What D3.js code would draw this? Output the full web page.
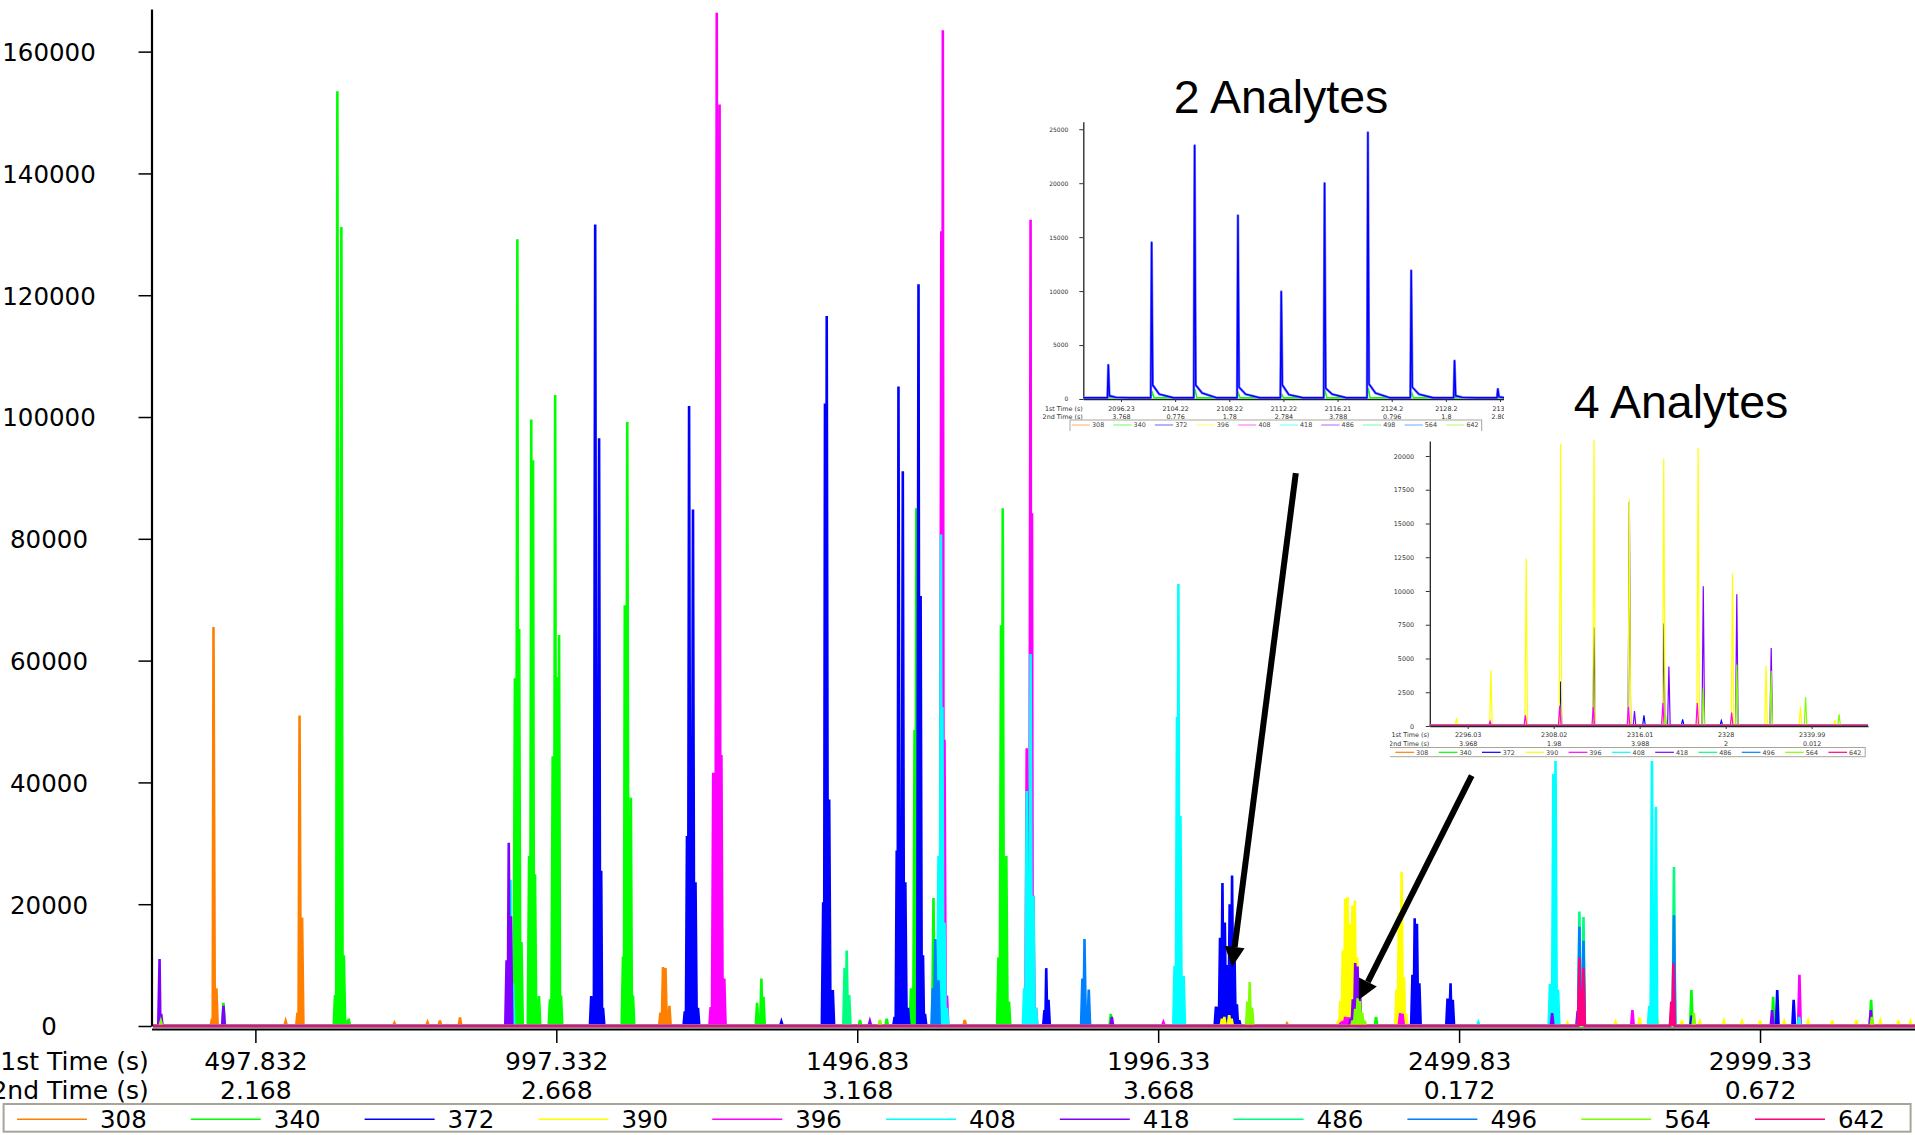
<!DOCTYPE html>
<html>
<head>
<meta charset="utf-8">
<script src="https://cdn.jsdelivr.net/npm/d3@7"></script>
<style>
  body { margin: 0; background: #fff; }
  svg { display: block; }
</style>
</head>
<body>
<svg id="chart" width="1915" height="1135"></svg>
<script>
// channels (m/z) in legend order, with their trace colours
const channels = ["308", "340", "372", "390", "396", "408", "418", "486", "496", "564", "642"];
const colors = ["#ff8000", "#00ff00", "#0000ff", "#ffff00", "#ff00ff", "#00ffff", "#8000ff", "#00ff80", "#0080ff", "#80ff00", "#ff0080"];

// peaks per channel: [run time (s), intensity]
const s308 = [[427.9,1200],[430.4,65500],[435.2,6200],[550.3,800],[570.0,2200],[573.4,51000],[577.6,17800],[650.0,900],[731.0,500],[786.0,600],[806.6,900],[840.0,1400],[1173.0,2200],[1177.3,9700],[1181.4,9500],[1187.9,3300],[1678.7,1000],[2214.0,400]];
const s340 = [[343.0,1500],[447.0,3800],[632.3,5100],[636.2,153500],[642.9,131200],[647.0,11600],[655.0,1200],[931.2,57100],[935.3,129200],[938.3,65200],[942.1,13800],[954.8,27900],[958.4,99600],[961.3,92900],[964.6,24900],[971.2,4900],[989.5,4400],[994.0,44300],[998.1,103600],[1001.1,57300],[1004.6,64200],[1007.8,5000],[1110.8,11400],[1113.8,69100],[1117.9,99200],[1123.9,37500],[1127.4,5000],[1333.6,3800],[1340.8,7800],[1344.2,4800],[1504.6,1000],[1549.0,1200],[1589.3,6200],[1595.3,48600],[1598.2,85000],[1601.0,10000],[1626.7,21000],[1734.6,11300],[1738.9,65800],[1741.7,85000],[1747.7,27900],[1752.2,4000],[1921.4,2000],[2362.0,1500],[2886.0,5900],[3021.8,4800],[3184.6,4300]];
const s372 = [[1058.0,4900],[1064.6,131600],[1071.1,96500],[1074.6,25500],[1077.6,3000],[1213.5,2400],[1217.1,31200],[1220.6,101800],[1227.1,84800],[1231.3,23600],[1235.4,3000],[1374.0,700],[1443.4,20300],[1446.4,102200],[1449.3,116600],[1453.4,37200],[1459.4,5900],[1562.1,1500],[1565.6,28800],[1568.5,105000],[1575.7,91100],[1579.9,23600],[1584.4,3000],[1601.8,121800],[1605.3,70600],[1609.3,11600],[1612.6,2000],[1811.1,2600],[1814.0,9500],[1817.8,4300],[2096.0,3200],[2098.8,3150],[2102.8,14500],[2106.8,23500],[2110.8,17000],[2114.8,10000],[2118.8,20000],[2122.8,24700],[2126.8,11900],[2130.8,3550],[2134.8,930],[2310.8,3300],[2314.7,7300],[2318.8,16600],[2320.5,800],[2322.8,7600],[2325.0,500],[2329.5,400],[2422.5,8400],[2426.2,17700],[2430.0,16800],[2434.0,7000],[2480.8,4500],[2485.8,7000],[2489.5,4300],[2886.5,1700],[3028.6,5900],[3055.9,4300]];
const s390 = [[2106.0,1200],[2110.0,1500],[2118.0,1800],[2122.0,1200],[2298.7,600],[2302.7,4150],[2306.8,12400],[2310.8,20900],[2314.7,21200],[2318.8,16800],[2322.8,19800],[2326.8,20600],[2330.8,11300],[2334.7,4470],[2338.7,1430],[2342.7,440],[2396.0,6000],[2400.0,18500],[2404.5,25300],[2408.5,8000],[2412.0,2000],[2680,500],[2760,600],[2800,1400],[2830,800],[2870,900],[2900,700],[2940,800],[2970,700],[3000,900],[3040,700],[3080,800],[3120,900],[3160,1000],[3200,800],[3230,900],[3250,700]];
const s396 = [[1256.5,3100],[1260.7,41600],[1266.6,166400],[1271.3,151300],[1274.3,44500],[1279.1,7800],[1639.7,130500],[1642.2,163500],[1645.0,47000],[1649.1,5000],[1781.6,45600],[1788.0,132400],[1790.4,84200],[1792.7,21400],[1797.0,3000],[2008.7,600],[2302.6,350],[2306.7,800],[2310.7,1500],[2314.6,1400],[2318.7,1400],[2322.7,1700],[2326.7,1700],[2330.7,1000],[2402.0,2100],[2406.0,2000],[2788.0,2600],[3065.5,8400]];
const s408 = [[924.0,24000],[928.0,7000],[1635.0,27900],[1639.2,80700],[1641.5,52400],[1645.0,17000],[1649.1,3000],[1777.4,6200],[1781.6,38600],[1788.0,61100],[1792.7,21400],[1797.0,3000],[2027.3,9900],[2031.3,50800],[2033.6,72600],[2037.0,34500],[2042.3,8200],[2532.0,600],[2651.0,6900],[2656.6,41400],[2660.2,43500],[2664.4,6000],[2816.0,3300],[2820.4,43500],[2827.0,36000],[3065.0,1500]];
const s418 = [[340.8,11000],[343.5,2000],[447.0,3300],[917.4,10800],[921.0,30100],[924.7,18000],[1521.0,800],[1923.0,1500],[2319.4,1100],[2323.4,4400],[2327.4,10350],[2331.3,9750],[2335.3,5780],[2654.6,2100],[2697.0,2500],[2855.0,3000],[3020.0,2600],[3184.0,2600]];
const s486 = [[1479.0,9500],[1482.5,12400],[1486.6,5100],[2699.9,18800],[2706.7,17900],[2852.6,3000],[2857.0,26100]];
const s496 = [[1625.5,6200],[1629.7,14300],[1635.0,7500],[1874.1,7800],[1877.6,14300],[1884.7,6000],[2699.9,16300],[2706.7,14000],[2857.0,18200]];
const s564 = [[343.0,800],[1537.7,1000],[2148.3,4000],[2152.1,7200],[2156.1,3000],[2323.0,900],[2327.4,2800],[2331.3,4550],[2335.3,4100],[2339.3,2150],[2343.2,860],[2890.0,2100],[3186.0,1500]];
const s642 = [[2699.9,11200],[2703.0,6000],[2706.7,9500],[2852.6,4000],[2856.0,10300]];
const series = [s308, s340, s372, s390, s396, s408, s418, s486, s496, s564, s642];

// main axes
const yTicks = [0, 20000, 40000, 60000, 80000, 100000, 120000, 140000, 160000];
const xTicks = [500, 1000, 1500, 2000, 2500, 3000];
const firstTime = ["497.832", "997.332", "1496.83", "1996.33", "2499.83", "2999.33"];
const secondTime = ["2.168", "2.668", "3.168", "3.668", "0.172", "0.672"];

// inset "2 Analytes": its own channel list
const i1Channels = ["308", "340", "372", "396", "408", "418", "486", "498", "564", "642"];
const i1Colors = ["#ffb97f", "#7fff7f", "#7f7fff", "#ffff7f", "#ff7fff", "#7fffff", "#bf7fff", "#7fffbf", "#7fbfff", "#bfff7f"];
// [time, apex, tail right after, tail ~0.7 s later]
const i1Blue = [[2098.83,3150,300,150],[2102.83,14500,1300,450],[2106.8,23500,1300,550],[2110.8,17000,1100,450],[2114.8,9950,1300,400],[2118.8,20000,1000,450],[2122.8,24700,1400,550],[2126.8,11900,1100,450],[2130.8,3550,300,150],[2134.8,930,200,100]];
const i1Green = [[2098.9,150],[2102.9,600],[2106.85,900],[2110.85,550],[2114.85,450],[2118.85,800],[2122.85,1000],[2126.85,600]];
const i1YTicks = [0, 5000, 10000, 15000, 20000, 25000];
const i1XTicks = [2100, 2105, 2110, 2115, 2120, 2125, 2130, 2135];
const i1First = ["2096.23", "2104.22", "2108.22", "2112.22", "2116.21", "2124.2", "2128.2", "2132"];
const i1Second = ["3.768", "0.776", "1.78", "2.784", "3.788", "0.796", "1.8", "2.804"];

// inset "4 Analytes"
const i2YTicks = [0, 2500, 5000, 7500, 10000, 12500, 15000, 17500, 20000];
const i2XTicks = [2300, 2310, 2320, 2330, 2340];
const i2First = ["2296.03", "2308.02", "2316.01", "2328", "2339.99"];
const i2Second = ["3.968", "1.98", "3.988", "2", "0.012"];

// arrows: [from, to] in run time / intensity of the main plot
const arrows = [[[2228.7, 90800], [2122.8, 9700]], [[2520.9, 41100], [2333.5, 4300]]];

const FONT = "'DejaVu Sans', Verdana, sans-serif";
const svg = d3.select("#chart").attr("font-family", FONT);

function spikePoints(peaks, hw, t0, t1, base) {
  const s = peaks.slice().sort((a, b) => a[0] - b[0]);
  const pts = [[t0, base]];
  s.forEach((d, i) => {
    const prev = s[i - 1], next = s[i + 1];
    const left = prev ? Math.max(d[0] - hw, (prev[0] + d[0]) / 2) : d[0] - hw;
    const right = next ? Math.min(d[0] + hw, (d[0] + next[0]) / 2) : d[0] + hw;
    if (left > pts[pts.length - 1][0]) pts.push([left, base]);
    pts.push([d[0], d[1]], [right, base]);
  });
  pts.push([t1, base]);
  return pts;
}

// ---------- main chart
const x = d3.scaleLinear().domain([327.4, 3257.5]).range([151.5, 1915]);
const y = d3.scaleLinear().domain([0, 167000]).range([1026, 9]);

svg.append("clipPath").attr("id", "plotClip").append("rect")
  .attr("x", x.range()[0] + 1.5).attr("y", 0)
  .attr("width", x.range()[1] - x.range()[0]).attr("height", y(0) + 2);

const plot = svg.append("g").attr("clip-path", "url(#plotClip)");
const area = d3.area().x(d => x(d[0])).y0(y(0)).y1(d => y(d[1]));
const line = d3.line().x(d => x(d[0])).y(d => y(d[1]));

series.forEach((s, i) => {
  const pts = spikePoints(s, 2.2, x.domain()[0], x.domain()[1], 0);
  plot.append("path").datum(pts).attr("d", area).attr("fill", colors[i]);
  plot.append("path").datum(pts).attr("d", line)
    .attr("fill", "none").attr("stroke", colors[i]).attr("stroke-width", 2.6);
});

const yAxis = svg.append("g").attr("transform", `translate(${x.range()[0]},0)`)
  .call(d3.axisLeft(y).tickValues(yTicks).tickSize(13).tickSizeOuter(0).tickFormat(d3.format("d")));
yAxis.attr("font-family", FONT).attr("font-size", 24.5);
yAxis.select(".domain").attr("stroke-width", 2.2);
yAxis.selectAll(".tick line").attr("stroke-width", 1.5);
yAxis.selectAll(".tick text").attr("x", 49 - x.range()[0]).attr("text-anchor", "middle")
  .attr("dy", "0.36em").attr("fill", "#000");

const xAxis = svg.append("g").attr("transform", `translate(0,${y(0) + 3})`)
  .call(d3.axisBottom(x).tickValues(xTicks).tickSize(14).tickSizeOuter(0).tickFormat((d, i) => firstTime[i]));
xAxis.attr("font-family", FONT).attr("font-size", 25);
xAxis.select(".domain").attr("stroke-width", 2.2);
xAxis.selectAll(".tick line").attr("stroke-width", 1.5);
xAxis.selectAll(".tick text").attr("y", 41).attr("dy", 0).attr("fill", "#000");
xAxis.selectAll(".tick").append("text").attr("y", 70).attr("fill", "#000")
  .attr("text-anchor", "middle").text((d, i) => secondTime[i]);

svg.append("text").attr("x", 148.7).attr("y", 1070).attr("text-anchor", "end")
  .attr("font-size", 25).text("1st Time (s)");
svg.append("text").attr("x", 148.7).attr("y", 1099).attr("text-anchor", "end")
  .attr("font-size", 25).text("2nd Time (s)");

// main legend
const legend = svg.append("g").attr("font-size", 24.5);
legend.append("rect").attr("x", 3.6).attr("y", 1104).attr("width", 1907).attr("height", 27.7)
  .attr("fill", "none").attr("stroke", "#a8a597").attr("stroke-width", 2);
channels.forEach((c, i) => {
  const lx = 17 + 173.8 * i;
  legend.append("line").attr("x1", lx).attr("x2", lx + 70).attr("y1", 1119.3).attr("y2", 1119.3)
    .attr("stroke", colors[i]).attr("stroke-width", 1.6);
  legend.append("text").attr("x", lx + 83).attr("y", 1128.3).text(c);
});

// ---------- insets
function insetFrame(g, o) {
  g.append("rect").attr("x", o.clip[0]).attr("y", o.clip[1])
    .attr("width", o.clip[2] - o.clip[0]).attr("height", o.clip[3] - o.clip[1]).attr("fill", "#fff");
  const yAx = g.append("g").attr("transform", `translate(${o.x.range()[0]},0)`)
    .call(d3.axisLeft(o.y).tickValues(o.yTicks).tickSize(4).tickSizeOuter(0).tickPadding(o.yPad).tickFormat(d3.format("d")));
  const xAx = g.append("g").attr("transform", `translate(0,${o.y.range()[0]})`)
    .call(d3.axisBottom(o.x).tickValues(o.xTicks).tickSize(3).tickSizeOuter(0).tickFormat((d, i) => o.first[i]));
  [yAx, xAx].forEach(a => {
    a.attr("font-family", FONT).attr("font-size", o.fs);
    a.selectAll("text").attr("fill", "#333");
    a.select(".domain").attr("stroke", "#222").attr("stroke-width", 1.3);
    a.selectAll(".tick line").attr("stroke", "#333");
  });
  yAx.selectAll(".tick text").attr("font-size", o.yfs);
  const base = o.y.range()[0];
  xAx.selectAll(".tick text").attr("y", o.row1 - base).attr("dy", 0);
  xAx.selectAll(".tick").append("text").attr("y", o.row2 - base).attr("fill", "#333")
    .attr("text-anchor", "middle").text((d, i) => o.second[i]);
  g.append("text").attr("x", o.x.range()[0] - 0.5).attr("y", o.row1).attr("text-anchor", "end")
    .attr("font-size", o.fs).attr("fill", "#333").text("1st Time (s)");
  g.append("text").attr("x", o.x.range()[0] - 0.5).attr("y", o.row2).attr("text-anchor", "end")
    .attr("font-size", o.fs).attr("fill", "#333").text("2nd Time (s)");
  const lg = g.append("g").attr("font-size", o.fs);
  lg.append("rect").attr("x", o.legBox[0]).attr("y", o.legBox[1])
    .attr("width", o.legBox[2] - o.legBox[0]).attr("height", o.legBox[3] - o.legBox[1])
    .attr("fill", "none").attr("stroke", "#a8a597").attr("stroke-width", 1);
  o.legNames.forEach((c, i) => {
    const lx = o.legX + o.legStep * i;
    lg.append("line").attr("x1", lx).attr("x2", lx + o.legLen).attr("y1", o.legY).attr("y2", o.legY)
      .attr("stroke", o.legColors[i]).attr("stroke-width", 1.2);
    lg.append("text").attr("x", lx + o.legLen + 2).attr("y", o.legY + 2.3).attr("fill", "#444").text(c);
  });
}

function makeClip(id, c) {
  svg.append("clipPath").attr("id", id).append("rect")
    .attr("x", c[0]).attr("y", c[1]).attr("width", c[2] - c[0]).attr("height", c[3] - c[1]);
  return svg.append("g").attr("clip-path", `url(#${id})`);
}

// inset 1: 2 Analytes
const ix1 = d3.scaleLinear().domain([2096.52, 2135.46]).range([1083.3, 1505]);
const iy1 = d3.scaleLinear().domain([0, 25700]).range([399, 121.7]);
const clip1 = [1040, 118, 1504, 431];
const g1 = makeClip("inset1Clip", clip1);
insetFrame(g1, {
  clip: clip1, x: ix1, y: iy1, yTicks: i1YTicks, xTicks: i1XTicks, first: i1First, second: i1Second,
  fs: 6.4, yfs: 6, yPad: 11, row1: 410.5, row2: 418.5,
  legBox: [1070, 420, 1481.7, 436], legNames: i1Channels, legColors: i1Colors,
  legX: 1071.7, legStep: 41.6, legLen: 18.3, legY: 425
});
const i1line = d3.line().x(d => ix1(d[0])).y(d => iy1(d[1]));
const greenPts = spikePoints(i1Green, 0.15, ix1.domain()[0], ix1.domain()[1], 110);
g1.append("path").datum(greenPts).attr("d", i1line).attr("fill", "none")
  .attr("stroke", "#00ff00").attr("stroke-width", 1.4);
const bluePts = [[ix1.domain()[0], 120]];
i1Blue.forEach(([t, h, a, b]) => bluePts.push([t - 0.08, 120], [t, h], [t + 0.1, a], [t + 0.7, b], [t + 2.0, 120]));
g1.append("path").datum(bluePts).attr("d", i1line).attr("fill", "none")
  .attr("stroke", "#7f7fff").attr("stroke-width", 2.6).attr("stroke-linejoin", "round");
g1.append("path").datum(bluePts).attr("d", i1line).attr("fill", "none")
  .attr("stroke", "#0000ff").attr("stroke-width", 1.4).attr("stroke-linejoin", "round");

// inset 2: 4 Analytes
const ix2 = d3.scaleLinear().domain([2295.59, 2346.56]).range([1429.8, 1868]);
const iy2 = d3.scaleLinear().domain([0, 21111]).range([726, 441]);
const clip2 = [1390, 436, 1870, 758];
const g2 = makeClip("inset2Clip", clip2);
insetFrame(g2, {
  clip: clip2, x: ix2, y: iy2, yTicks: i2YTicks, xTicks: i2XTicks, first: i2First, second: i2Second,
  fs: 6.4, yfs: 6.4, yPad: 11.7, row1: 737.4, row2: 746.4,
  legBox: [1380, 747.5, 1865.2, 756.7], legNames: channels, legColors: colors,
  legX: 1395.4, legStep: 43.3, legLen: 18.7, legY: 752.3
});
const i2line = d3.line().x(d => ix2(d[0])).y(d => iy2(d[1]));
series.forEach((s, i) => {
  const inRange = s.filter(d => d[0] > ix2.domain()[0] && d[0] < ix2.domain()[1]);
  const pts = spikePoints(inRange, 0.15, ix2.domain()[0], ix2.domain()[1], 40);
  g2.append("path").datum(pts).attr("d", i2line).attr("fill", "none")
    .attr("stroke", colors[i]).attr("stroke-width", 1.2);
});

// titles
svg.append("text").attr("x", 1281).attr("y", 113).attr("text-anchor", "middle")
  .attr("font-family", "'Liberation Sans', Arial, sans-serif").attr("font-size", 46.5).text("2 Analytes");
svg.append("text").attr("x", 1681).attr("y", 417.7).attr("text-anchor", "middle")
  .attr("font-family", "'Liberation Sans', Arial, sans-serif").attr("font-size", 46.5).text("4 Analytes");

// arrows
arrows.forEach(([from, to]) => {
  const x1 = x(from[0]), y1 = y(from[1]), x2 = x(to[0]), y2 = y(to[1]);
  const ang = Math.atan2(y2 - y1, x2 - x1), len = 20, hw = 10;
  const bx = x2 - len * Math.cos(ang), by = y2 - len * Math.sin(ang);
  svg.append("line").attr("x1", x1).attr("y1", y1).attr("x2", bx).attr("y2", by)
    .attr("stroke", "#000").attr("stroke-width", 6);
  const px = -Math.sin(ang) * hw, py = Math.cos(ang) * hw;
  svg.append("path").attr("d", `M${x2},${y2}L${bx + px},${by + py}L${bx - px},${by - py}Z`).attr("fill", "#000");
});
</script>
</body>
</html>
